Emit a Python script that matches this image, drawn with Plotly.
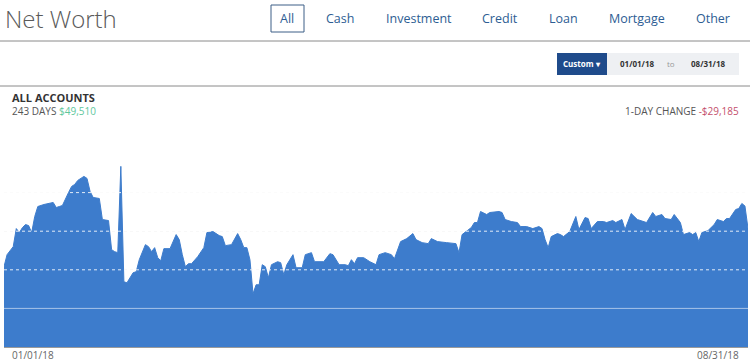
import plotly.graph_objects as go
import datetime as dt

# ---- data ----
day_index = [0, 1, 3, 4, 5, 6, 7, 8, 9, 10, 11, 13, 16, 17, 18, 19, 21, 22, 23, 24, 26, 27, 28, 29, 31, 32, 34, 35, 36, 37, 38, 39,
             40, 42, 43, 44, 46, 47, 48, 49, 50, 51, 52, 54, 56, 57, 58, 59, 60, 61, 63, 65, 66, 68, 70, 71, 72, 74, 76, 77, 78, 79,
             80, 81, 82, 83, 84, 85, 86, 87, 89, 90, 91, 92, 94, 95, 97, 98, 100, 101, 104, 106, 107, 109, 111, 112, 113, 114, 115,
             117, 119, 121, 122, 124, 126, 127, 129, 131, 133, 134, 136, 138, 139, 141, 144, 147, 148, 149, 152, 153, 154, 155, 157,
             158, 161, 162, 163, 165, 167, 168, 170, 171, 172, 174, 175, 176, 177, 178, 180, 181, 182, 184, 186, 187, 189, 190, 191,
             193, 195, 196, 198, 199, 201, 202, 204, 206, 209, 211, 212, 214, 215, 217, 218, 220, 221, 223, 224, 225, 226, 227, 229,
             231, 232, 234, 235, 236, 238, 239, 240, 241, 242]
net_worth = [104000, 119600, 130000, 153400, 148200, 154700, 158600, 157300, 148200, 169000, 182000, 184600, 187200, 180700, 182000,
             183300, 200200, 208000, 210600, 215800, 221000, 218400, 201500, 193700, 192400, 165100, 163800, 126100, 123500, 122200,
             234000, 84500,
             83200, 96200, 97500, 113100, 132600, 130000, 123500, 128700, 115700, 111800, 127400, 127400, 145600, 139100, 119600,
             104000, 107900, 107900, 117000, 128700, 148200, 149500, 144300, 143000, 131300, 132600, 146900, 139100, 128700, 128700,
             113100, 68900, 80600, 80600, 106600, 104000, 89700, 106600, 110500, 109200, 93600, 106600, 119600, 102700, 102700,
             119600, 122200, 110500, 110500, 120900, 119600, 106600, 106600, 105300, 113100, 107900, 115700,
             115700, 110500, 106600, 119600, 122200, 119600, 114400, 136500, 140400, 146900, 139100, 135200, 133900, 140400, 136500,
             135200, 133900, 122200, 145600, 154700, 161200, 161200, 175500, 171600,
             174200, 175500, 174200, 165100, 162500, 161200, 156000, 156000, 154700, 153400, 156000, 153400, 139100, 128700, 143000,
             146900, 145600, 143000, 149500, 169000, 152100, 167700, 166400, 153400,
             162500, 162500, 161200, 163800, 161200, 165100, 152100, 172900, 165100, 161200, 174200, 169000, 171600, 166400, 165100,
             171600, 161200, 145600, 148200, 145600, 148200, 136500, 148200, 150800,
             158600, 165100, 162500, 166400, 166400, 178100, 179400, 185900, 182700, 153500]
start_date = dt.date(2018, 1, 1)
dates = [start_date + dt.timedelta(days=d) for d in day_index]
grid_values = [50000, 100000, 150000, 200000, 250000]
tabs = ["All", "Cash", "Investment", "Credit", "Loan", "Mortgage", "Other"]
tab_centers = [287, 340, 419, 500, 563, 637, 713]

W, H = 750, 362
L, R, T, B = 4, 748, 154, 347
def px(x):
    return (x - L) / (R - L)
def py(y):
    return (B - y) / (B - T)

FONT = "Open Sans"
BLUE = "#3d7ccc"
fig = go.Figure()
fig.add_trace(go.Scatter(
    x=dates, y=net_worth, mode="lines", fill="tozeroy",
    line=dict(color=BLUE, width=1), fillcolor=BLUE,
    hoverinfo="skip", showlegend=False))

shapes = []
for g in grid_values:
    style = dict(color="rgba(255,255,255,0.55)", width=1) if g == grid_values[0] else \
        dict(color="rgba(255,255,255,0.85)", width=1, dash="dot")
    shapes.append(dict(type="line", xref="paper", yref="y", x0=0, x1=1, y0=g, y1=g,
                       line=style, layer="above"))
# header lines
shapes.append(dict(type="line", xref="paper", yref="paper", x0=px(0), x1=px(750), y0=py(41), y1=py(41),
                   line=dict(color="#8a8a8a", width=1)))
shapes.append(dict(type="line", xref="paper", yref="paper", x0=px(0), x1=px(750), y0=py(86), y1=py(86),
                   line=dict(color="#8a8a8a", width=1)))
# All tab box
shapes.append(dict(type="rect", xref="paper", yref="paper", x0=px(271), x1=px(304), y0=py(5), y1=py(32),
                   line=dict(color="#3d5f87", width=1), fillcolor="rgba(0,0,0,0)"))
# Custom button and date box
shapes.append(dict(type="rect", xref="paper", yref="paper", x0=px(557), x1=px(607), y0=py(53), y1=py(75),
                   line=dict(width=0), fillcolor="#1f4b8b"))
shapes.append(dict(type="rect", xref="paper", yref="paper", x0=px(607), x1=px(739), y0=py(53), y1=py(75),
                   line=dict(width=0), fillcolor="#eef0f3"))

ann = []
def text(x, y, s, size, color, anchor="center", weight="normal", family=FONT):
    ann.append(dict(xref="paper", yref="paper", x=px(x), y=py(y), text=s, showarrow=False,
                    xanchor=anchor, yanchor="middle",
                    font=dict(family=family, size=size, color=color, weight=weight)))

text(3, 18, "Net Worth", 24, "#5a5a5a", anchor="left", weight=300)
for t, c in zip(tabs, tab_centers):
    text(c, 18, t, 12.5, "#2d5d93")
text(582, 64, "Custom ▾", 8, "#ffffff", weight="bold")
text(637, 64, "01/01/18", 8, "#333333", weight="bold")
text(671, 64, "to", 8, "#999999")
text(708, 64, "08/31/18", 8, "#333333", weight="bold")
text(10, 97, "ALL ACCOUNTS", 11, "#333333", anchor="left", weight="bold")
text(10, 111, "243 DAYS <span style='color:#5ec79c'>$49,510</span>", 10, "#555555", anchor="left")
text(741, 111, "1-DAY CHANGE <span style='color:#c4506c'>-$29,185</span>", 10, "#555555", anchor="right")
text(10, 355, "01/01/18", 10, "#666666", anchor="left")
text(741, 355, "08/31/18", 10, "#666666", anchor="right")

fig.update_layout(
    width=W, height=H,
    margin=dict(l=L, r=W - R, t=T, b=H - B),
    paper_bgcolor="white", plot_bgcolor="white",
    shapes=shapes, annotations=ann,
    xaxis=dict(range=[dt.date(2018, 1, 1), dt.date(2018, 8, 31)], showgrid=False, showticklabels=False,
               zeroline=False, showline=True, linecolor="#9a9a9a", linewidth=1, fixedrange=True),
    yaxis=dict(range=[0, 250000], tickvals=grid_values, showticklabels=False, showgrid=True,
               gridcolor="#ededed", gridwidth=1, griddash="dot", zeroline=False, fixedrange=True),
    showlegend=False,
)
fig.write_html("out.html", config={"displayModeBar": False},
               post_script="document.body.style.margin='0';document.body.style.overflow='hidden';")
